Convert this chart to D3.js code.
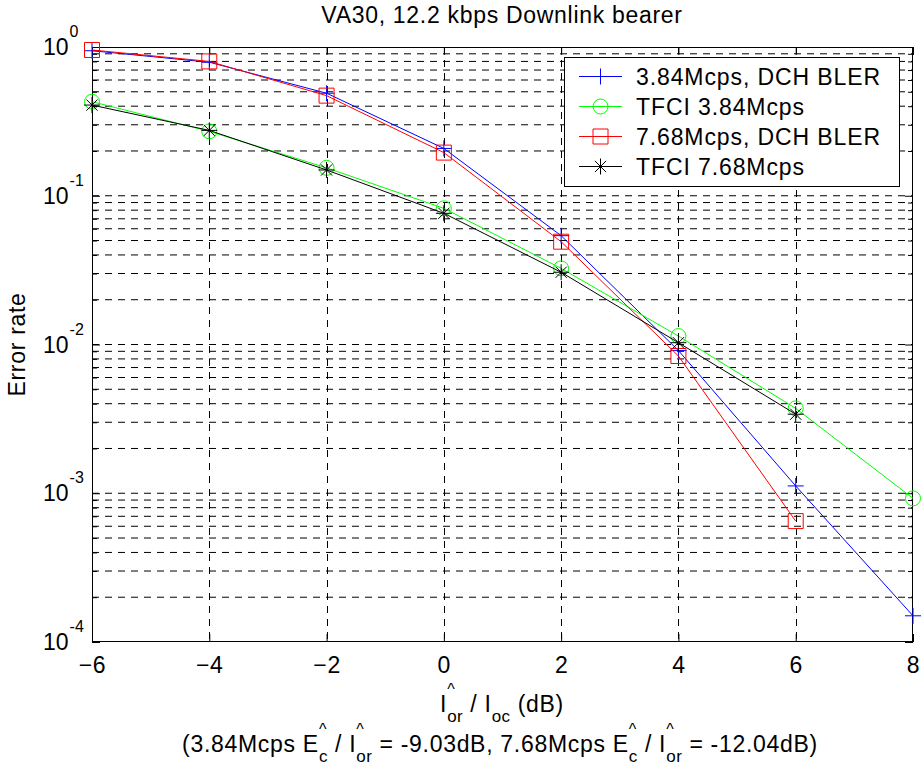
<!DOCTYPE html>
<html>
<head>
<meta charset="utf-8">
<script src="https://cdn.jsdelivr.net/npm/d3@7"></script>
<style>
  body { margin: 0; background: #fff; }
  text { font-family: "Liberation Sans", Arial, Helvetica, sans-serif; fill: #000; }
</style>
</head>
<body>
<svg id="chart" width="921" height="769"></svg>
<script>
// Eb/Io sweep points (dB)
const xValues = [-6, -4, -2, 0, 2, 4, 6, 8];
// Error rates per series
const dch384  = [0.944, 0.79, 0.489, 0.208, 0.0539, 0.0091, 0.00112, 0.000150];
const tfci384 = [0.429, 0.271, 0.154, 0.0823, 0.0325, 0.0114, 0.00372, 0.000924];
const dch768  = [0.955, 0.80, 0.471, 0.195, 0.0491, 0.00837, 0.00065];
const tfci768 = [0.407, 0.275, 0.149, 0.0762, 0.0306, 0.01028, 0.0034];

const seriesNames   = ["3.84Mcps, DCH BLER", "TFCI 3.84Mcps", "7.68Mcps, DCH BLER", "TFCI 7.68Mcps"];
const seriesValues  = [dch384, tfci384, dch768, tfci768];
const seriesColors  = ["#0000ff", "#00ff00", "#ff0000", "#000000"];
const seriesMarkers = ["plus", "circle", "square", "star"];

const xTicks = [-6, -4, -2, 0, 2, 4, 6, 8];
const yExponents = [0, -1, -2, -3, -4];
const titleText = "VA30, 12.2 kbps Downlink bearer";
const yLabelText = "Error rate";

const svg = d3.select("#chart");
const plot = { left: 92, right: 913, top: 47, bottom: 642 };

const x = d3.scaleLinear().domain([-6, 8]).range([plot.left, plot.right]);
const y = d3.scaleLog().domain([1e-4, 1]).range([plot.bottom, plot.top]);

const FS = 23;        // main font size
const FS_SMALL = 16;  // super/subscripts
const LS = 0.7;       // letter spacing

// minor + major log positions
const yAll = [];
for (let e = -4; e < 0; e++) for (let m = 1; m <= 9; m++) yAll.push(m * Math.pow(10, e));
yAll.push(1);
const yMajor = yExponents.map(e => Math.pow(10, e));
const yMinor = yAll.filter(v => !yMajor.some(m => Math.abs(m - v) / v < 1e-9));

// ---- grid ----
const grid = svg.append("g").attr("fill", "none").attr("stroke", "#000").attr("stroke-width", 1)
  .attr("stroke-dasharray", "7,6");
grid.selectAll("line.gx").data(xTicks.filter(t => t > -6 && t < 8)).join("line")
  .attr("x1", d => Math.round(x(d)) + 0.5).attr("x2", d => Math.round(x(d)) + 0.5)
  .attr("y1", plot.top).attr("y2", plot.bottom);
grid.selectAll("line.gy").data(yAll.filter(v => v > 1e-4 && v < 1)).join("line")
  .attr("x1", plot.left).attr("x2", plot.right)
  .attr("y1", d => y(d)).attr("y2", d => y(d));

// ---- axes (ticks point inward) ----
const axG = svg.append("g");
function styleAxis(g) {
  g.select(".domain").remove();
  g.selectAll(".tick line").attr("stroke", "#000").attr("stroke-width", 1);
}
axG.append("g").attr("transform", `translate(0,${plot.bottom})`)
  .call(d3.axisBottom(x).tickValues(xTicks).tickSize(-8).tickFormat(d3.format("d")))
  .call(styleAxis)
  .call(g => g.selectAll(".tick text").attr("font-size", FS).attr("letter-spacing", LS)
      .attr("font-family", null).attr("fill", "#000").attr("dy", null).attr("y", 31));
axG.append("g").attr("transform", `translate(0,${plot.top})`)
  .call(d3.axisTop(x).tickValues(xTicks).tickSize(-8).tickFormat(""))
  .call(styleAxis);
axG.append("g").attr("transform", `translate(${plot.left},0)`)
  .call(d3.axisLeft(y).tickValues(yMajor).tickSize(-8).tickFormat(""))
  .call(styleAxis);
axG.append("g").attr("transform", `translate(${plot.left},0)`)
  .call(d3.axisLeft(y).tickValues(yMinor).tickSize(-5).tickFormat(""))
  .call(styleAxis);
axG.append("g").attr("transform", `translate(${plot.right},0)`)
  .call(d3.axisRight(y).tickValues(yMajor).tickSize(-8).tickFormat(""))
  .call(styleAxis);
axG.append("g").attr("transform", `translate(${plot.right},0)`)
  .call(d3.axisRight(y).tickValues(yMinor).tickSize(-5).tickFormat(""))
  .call(styleAxis);

// plot box
svg.append("rect").attr("x", plot.left + 0.5).attr("y", plot.top + 0.5)
  .attr("width", plot.right - plot.left - 1).attr("height", plot.bottom - plot.top - 1)
  .attr("fill", "none").attr("stroke", "#000").attr("stroke-width", 1);

// y tick labels: 10^n
const yLab = svg.append("g");
yExponents.forEach(e => {
  const ty = y(Math.pow(10, e));
  const t = yLab.append("text").attr("x", 43).attr("y", ty + 8)
    .attr("font-size", FS).text("10");
  const w = t.node().getComputedTextLength();
  yLab.append("text").attr("x", 43 + w + 1).attr("y", ty - 10)
    .attr("font-size", FS_SMALL).text(String(e));
});

// ---- series ----
const lineGen = d3.line().x(d => x(d[0])).y(d => y(d[1]));
function markerPath(type, cx, cy) {
  const p = d3.path();
  if (type === "plus") {
    p.moveTo(cx - 8, cy); p.lineTo(cx + 8, cy);
    p.moveTo(cx, cy - 8); p.lineTo(cx, cy + 8);
  } else if (type === "circle") {
    p.moveTo(cx + 7.5, cy); p.arc(cx, cy, 7.5, 0, 2 * Math.PI);
  } else if (type === "square") {
    p.rect(cx - 7.5, cy - 7.5, 15, 15);
  } else if (type === "star") {
    const a = 8, b = 5.6;
    p.moveTo(cx - a, cy); p.lineTo(cx + a, cy);
    p.moveTo(cx, cy - a); p.lineTo(cx, cy + a);
    p.moveTo(cx - b, cy - b); p.lineTo(cx + b, cy + b);
    p.moveTo(cx - b, cy + b); p.lineTo(cx + b, cy - b);
  }
  return p.toString();
}

seriesValues.forEach((vals, i) => {
  const pts = vals.map((v, k) => [xValues[k], v]);
  const g = svg.append("g").attr("stroke", seriesColors[i]).attr("fill", "none").attr("stroke-width", 1);
  g.append("path").attr("d", lineGen(pts));
  g.selectAll("path.m").data(pts).join("path").attr("class", "m")
    .attr("d", d => markerPath(seriesMarkers[i], x(d[0]), y(d[1])));
});

// ---- legend ----
const leg = svg.append("g");
leg.append("rect").attr("x", 564.5).attr("y", 57.5).attr("width", 335).attr("height", 129)
  .attr("fill", "#fff").attr("stroke", "#000").attr("stroke-width", 1);
seriesNames.forEach((name, i) => {
  const cy = 76.5 + i * 30;
  const g = leg.append("g").attr("stroke", seriesColors[i]).attr("fill", "none").attr("stroke-width", 1);
  g.append("line").attr("x1", 579).attr("x2", 622).attr("y1", cy).attr("y2", cy);
  g.append("path").attr("d", markerPath(seriesMarkers[i], 600.5, cy));
  leg.append("text").attr("x", 636).attr("y", cy + 8).attr("font-size", FS)
    .attr("letter-spacing", 0.9).text(name);
});

// ---- title & axis labels ----
svg.append("text").attr("x", 502).attr("y", 23).attr("text-anchor", "middle")
  .attr("font-size", FS).attr("letter-spacing", LS).text(titleText);

svg.append("text").attr("transform", "translate(25,344.5) rotate(-90)")
  .attr("text-anchor", "middle").attr("font-size", FS).attr("letter-spacing", LS).text(yLabelText);

// rich text with stacked super/subscripts (e.g. I with hat and "or" below)
function richText(cx, baseline, segs) {
  const g = svg.append("g");
  let cur = 0;
  segs.forEach(s => {
    if (s.t !== undefined) {
      const t = g.append("text").attr("x", cur).attr("y", baseline)
        .attr("font-size", FS).attr("letter-spacing", LS).attr("xml:space", "preserve").text(s.t);
      cur += t.node().getComputedTextLength();
    } else {
      let w = 0;
      if (s.sup) {
        const t = g.append("text").attr("x", cur).attr("y", baseline - 17)
          .attr("font-size", FS_SMALL).text(s.sup);
        w = Math.max(w, t.node().getComputedTextLength());
      }
      if (s.sub) {
        const t = g.append("text").attr("x", cur).attr("y", baseline + 10)
          .attr("font-size", FS_SMALL + 1).attr("letter-spacing", 0.5).text(s.sub);
        w = Math.max(w, t.node().getComputedTextLength());
      }
      cur += w;
    }
  });
  g.attr("transform", `translate(${cx - cur / 2},0)`);
}

richText(502, 712, [
  { t: "I" }, { sup: "^", sub: "or" }, { t: " / I" }, { sub: "oc" }, { t: " (dB)" }
]);
richText(500, 752, [
  { t: "(3.84Mcps E" }, { sup: "^", sub: "c" }, { t: " / I" }, { sup: "^", sub: "or" },
  { t: " = -9.03dB, 7.68Mcps E" }, { sup: "^", sub: "c" }, { t: " / I" }, { sup: "^", sub: "or" },
  { t: " = -12.04dB)" }
]);
</script>
</body>
</html>
